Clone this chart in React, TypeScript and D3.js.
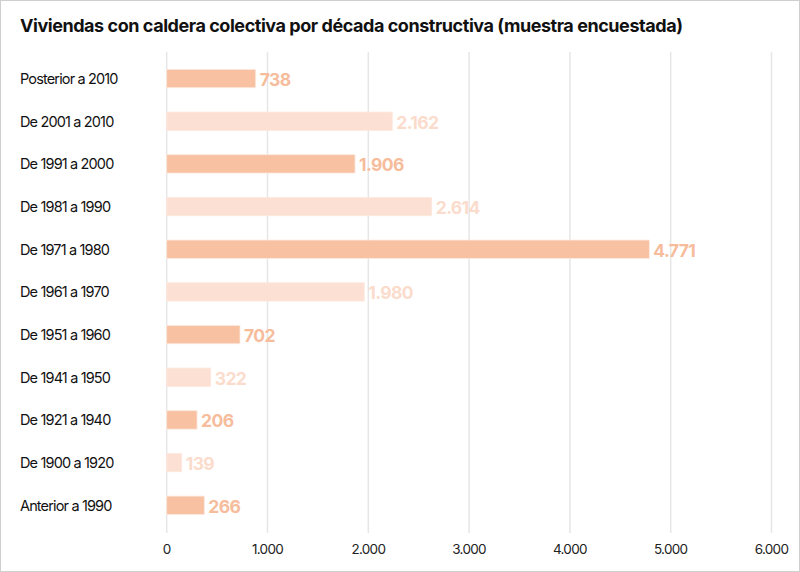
import React from "react";
import * as d3 from "d3";

const categories = [
  "Posterior a 2010",
  "De 2001 a 2010",
  "De 1991 a 2000",
  "De 1981 a 1990",
  "De 1971 a 1980",
  "De 1961 a 1970",
  "De 1951 a 1960",
  "De 1941 a 1950",
  "De 1921 a 1940",
  "De 1900 a 1920",
  "Anterior a 1990",
];
// values printed as labels
const values = [738, 2162, 1906, 2614, 4771, 1980, 702, 322, 206, 139, 266];
// bar lengths (the bars do not exactly match the printed labels)
const barValues = [883, 2238, 1868, 2629, 4788, 1960, 727, 437, 301, 149, 373];
const ticks = [0, 1000, 2000, 3000, 4000, 5000, 6000];
const title = "Viviendas con caldera colectiva por década constructiva (muestra encuestada)";

const W = 800;
const H = 572;
const font = "Inter, 'Noto Sans', sans-serif";

const locale = d3.formatLocale({ decimal: ",", thousands: ".", grouping: [3], currency: ["", "€"] });
const fmt = locale.format(",d");

export default function App() {
  const x = d3.scaleLinear().domain([0, 6000]).range([166.7, 771.5]);
  const y = d3
    .scaleBand<string>()
    .domain(categories)
    .range([57.2, 526.6])
    .paddingInner(0.57)
    .paddingOuter(0.285);
  const darkBar = "#f7c1a2";
  const lightBar = "#fce0d3";
  const darkText = "#f6bc9b";
  const lightText = "#fbdccc";
  return (
    <svg width={W} height={H} style={{ position: "fixed", left: 0, top: 0, background: "#fff" }}>
      <rect x={0.5} y={0.5} width={W - 1} height={H - 1} fill="#fff" stroke="#cfcfcf" />
      <text x={20} y={31.5} fontFamily={font} fontWeight={700} fontSize={18} letterSpacing={-0.45} fill="#111">
        {title}
      </text>
      {ticks.map((t) => (
        <g key={t}>
          <line x1={x(t)} x2={x(t)} y1={52} y2={533} stroke="#e6e6e6" strokeWidth={1.5} />
          <text x={x(t)} y={554} textAnchor="middle" fontFamily={font} fontSize={13.5} letterSpacing={-0.7} fill="#222">
            {fmt(t)}
          </text>
        </g>
      ))}
      {categories.map((c, i) => {
        const yy = y(c)!;
        const bw = y.bandwidth();
        const dark = i % 2 === 0;
        return (
          <g key={c}>
            <text x={20} y={yy + bw / 2 + 5.3} fontFamily={font} fontSize={14.5} letterSpacing={-0.85} fill="#111">
              {c}
            </text>
            <rect
              x={x(0)}
              y={yy}
              width={x(barValues[i]) - x(0)}
              height={bw}
              fill={dark ? darkBar : lightBar}
              stroke="#fde9df"
              strokeWidth={0.8}
            />
            <text
              x={x(barValues[i]) + 4}
              y={yy + bw / 2 + 7.3}
              fontFamily={font}
              fontWeight={700}
              fontSize={17.5}
              letterSpacing={-0.6}
              fill={dark ? darkText : lightText}
            >
              {fmt(values[i])}
            </text>
          </g>
        );
      })}
    </svg>
  );
}
